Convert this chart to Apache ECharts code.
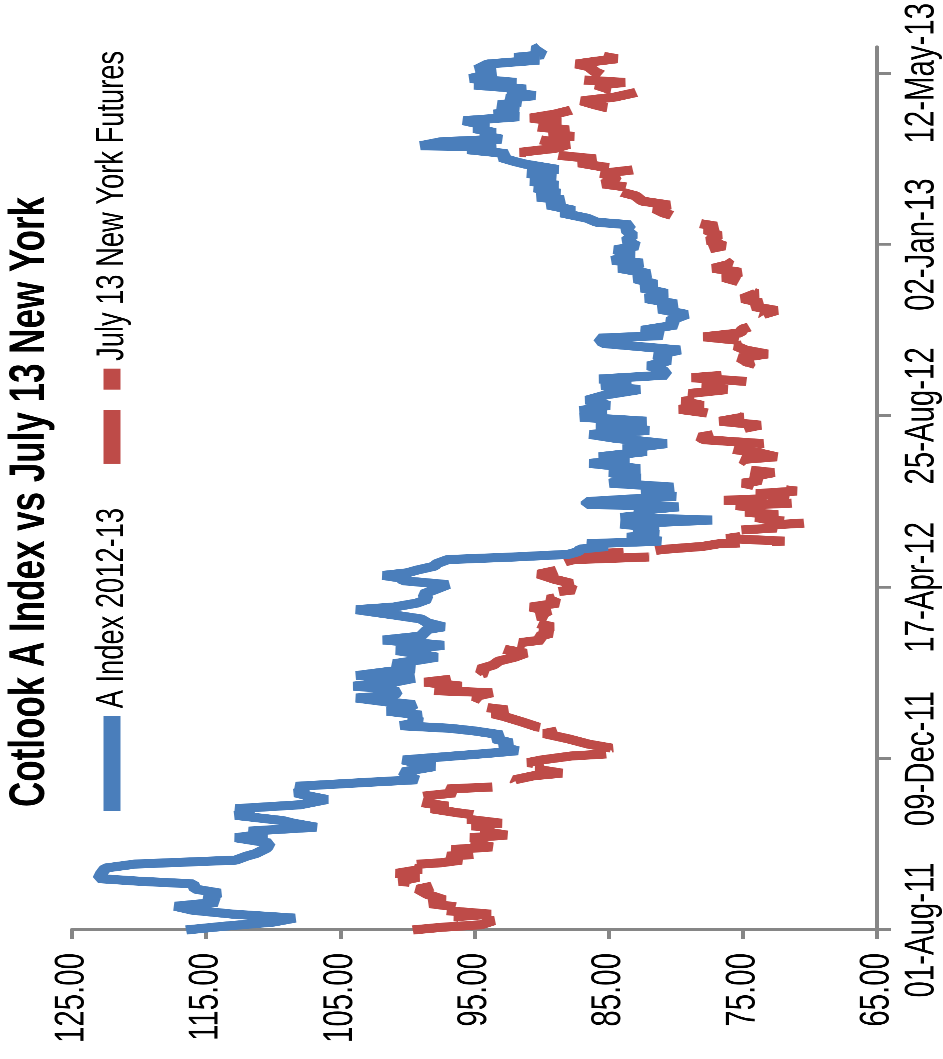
<!DOCTYPE html>
<html><head><meta charset="utf-8">
<script src="https://cdn.jsdelivr.net/npm/echarts@6/dist/echarts.min.js"></script>
<style>
html,body{margin:0;padding:0;background:#fff;overflow:hidden;width:943px;height:1059px;}
#chart{position:absolute;left:0;top:0;width:1512.857px;height:943px;transform-origin:0 0;transform:translate(0,1059px) rotate(-90deg) scaleX(0.7);}
</style></head><body><div id="chart"></div>
<script>
// Days counted from 01-Aug-2011
const blueDays = [0,3,6,9,12,15,18,21,25,28,31,35,37,39,43,47,50,53,56,58,62,66,70,73,75,78,81,83,87,90,92,95,99,102,104,107,109,112,114,117,120,124,127,129,131,134,136,139,142,145,148,151,153,155,158,161,163,166,168,171,173,176,178,181,183,185,188,191,193,196,198,200,202,205,207,210,212,214,216,218,220,223,225,228,230,233,236,239,243,245,248,251,255,258,262,265,267,269,271,273,276,278,281,283,285,287,289,291,293,295,298,300,303,305,308,311,313,315,318,321,323,325,329,332,336,339,343,347,350,354,357,359,363,365,369,373,376,379,383,386,389,392,394,398,402,406,410,413,417,418,421,425,428,432,436,440,442,445,449,451,455,459,462,467,471,475,479,483,487,490,494,498,502,506,508,512,516,519,523,527,531,535,537,540,544,546,550,554,556,559,563,565,568,570,574,577,581,583,586,589,592,594,595,598,600,603,605,608,610,614,617,619,622,626,628,631,633,636,638,641,643,646,648,651,653,657,660,662,664,668,670];
const blueVals = [116.5,113.5,110,108.4,113,116,117.3,114.2,115,114,115.8,116,120,123,122.8,122.5,120.3,112.8,112,111.3,110.5,110.3,112.8,110.5,111.8,106.8,108.5,109.3,112.8,111.5,112.8,108,106,107.5,108.3,107.5,108.3,103,99.3,100,100.3,98,99.5,100.3,97.8,94,91.8,93,92.3,93.5,93,95,96.8,100.5,99,99.8,99,101.5,100,99.5,101.5,103.8,101,100.8,101.5,104,101,99.5,103.8,101.5,99.5,100.5,101,99,97.8,99.5,100.8,99,97.3,99.5,101.8,99,98.8,98.5,97.3,98.5,99,101,103.8,101,99.3,98.5,98.8,98,97,100.3,100.5,101.8,100,99.3,98,97.8,97,92,88,87.3,87.1,85.1,86.6,81.1,83.6,81.3,83.1,81.3,84.1,77.3,84.1,82.1,83,79.8,86.6,86.6,80.0,82.5,80.2,84.9,82.7,84.9,82.7,86.4,83.5,85.7,82.2,83.9,80.7,84.5,86.4,82.0,85.9,82.2,87.1,85.2,87.1,85.0,86.6,85.2,82.7,85.5,83.4,85.7,80.7,81.0,82.0,80.5,81.5,79.7,82.0,85.4,85.7,81.0,82.5,80.0,80.5,79.2,81.2,80.0,82.2,80.7,82.5,81.5,83.0,82.0,84.2,82.5,84.7,83.2,84.5,82.9,83.7,83.2,83.7,83.4,85.9,86.6,88.5,87.6,89.5,88.4,90.3,88.7,90.5,88.8,90.8,89.0,91.0,88.8,91.2,92.0,93.0,92.6,95.5,93.4,99.0,97.5,93.0,94.5,93.5,95.0,94.0,95.8,91.7,93.5,91.8,93.2,91.6,92.6,90.5,92.5,91.2,95.0,91.9,95.3,94.5,93.5,94.8,94.0,90.2,92.0,89.9,90.5,90.1];
const redDays = [0,2,4,7,10,12,15,17,20,23,27,31,34,37,40,43,46,49,51,53,56,58,61,63,66,68,70,72,75,77,79,81,84,86,89,92,94,97,99,101,104,107,109,111,114,117,119,122,124,127,129,132,134,136,138,141,145,149,152,154,158,162,164,167,170,174,177,180,182,185,188,190,192,195,198,201,204,207,210,213,215,218,220,223,225,228,230,233,235,238,242,245,248,251,253,256,258,261,263,266,270,273,276,279,281,283,285,287,289,291,293,295,297,299,301,303,305,307,309,311,313,315,317,319,322,324,326,328,331,333,336,339,341,344,347,350,354,357,359,362,365,369,372,374,377,380,383,386,389,392,395,398,401,404,407,410,413,416,419,422,425,430,434,437,440,443,446,450,453,456,459,463,467,470,473,476,479,483,488,491,495,499,502,505,509,513,516,519,523,527,531,534,538,541,544,547,550,553,557,561,563,566,569,571,574,577,579,582,585,588,590,593,596,600,602,604,607,610,613,616,619,622,624,626,629,632,636,638,641,643,645,648,651,655,657,659,661,663];
const redVals = [99.6,97.5,94.5,93.6,96.5,93.8,97.5,96.0,98.3,97.3,98.5,99.2,97.8,100.6,99.2,100.8,99.0,100.6,97.5,96.0,97.0,94.0,96.7,93.7,95.2,93.5,95.3,92.6,94.5,92.6,95.2,93.0,95.5,94.0,96.3,98.2,97.0,99.2,98.5,99.3,96.5,97.0,92.5,91.7,92.0,90.6,88.5,90.4,89.0,91.0,90.0,87.8,84.5,85.5,84.8,86.5,88.0,89.8,88.3,90.3,91.5,92.8,93.6,92.6,95.2,94.3,95.0,93.7,99.0,96.0,98.7,97.0,95.5,94.2,94.6,93.6,93.2,92.0,91.2,92.8,90.8,91.6,90.0,90.2,89.3,90.0,89.2,90.5,89.0,90.2,89.5,90.8,88.8,89.5,88.5,89.5,87.6,88.2,87.8,89.0,90.2,88.8,89.6,88.4,87.6,82.0,87.3,82.5,80.6,78.0,76.8,71.9,76.2,74.8,75.3,75.9,72.5,73.3,70.0,73.0,74.0,72.4,74.8,72.8,75.5,71.1,76.4,71.2,74.0,71.0,73.6,75.0,73.7,74.3,72.7,75.5,74.5,75.0,72.5,73.8,76.0,73.5,77.9,78.2,76.5,75.2,73.7,76.7,75.0,77.5,79.7,78.0,79.5,77.5,79.0,76.2,78.0,74.5,78.8,75.0,74.8,74.5,75.2,73.2,74.8,75.5,74.0,77.9,75.2,75.0,74.0,73.0,73.5,72.5,74.2,73.7,75.0,74.0,75.5,75.0,76.4,75.2,77.2,76.0,76.5,77.5,77.9,76.4,77.5,76.8,77.7,77.0,79.5,79.9,80.9,81.5,80.5,82.5,83.0,84.5,83.2,85.4,84.5,84.6,85.5,82.9,85.5,87.2,86.0,89.0,91.6,89.0,88.0,90.4,87.6,89.4,88.0,91.1,88.6,90.8,89.0,87.8,85.2,86.0,87.0,84.5,82.7,85.0,85.9,83.8,87.1,85.3,86.0,86.5,87.4,86.0,84.4,85.5];
const dateTickDays = [0,130,260,390,520,650];
const valueTicks = [65,75,85,95,105,115,125];
const seriesNames = ['A Index 2012-13','July 13 New York Futures'];
const titleText = 'Cotlook A Index vs July 13 New York';

const START = Date.UTC(2011,7,1);
const MONTHS = ['Jan','Feb','Mar','Apr','May','Jun','Jul','Aug','Sep','Oct','Nov','Dec'];
function fmtDay(d){
  const dt = new Date(START + d*86400000);
  const dd = String(dt.getUTCDate()).padStart(2,'0');
  return dd + '-' + MONTHS[dt.getUTCMonth()] + '-' + String(dt.getUTCFullYear()).slice(2);
}
const FONT = '"Liberation Sans", Arial, sans-serif';
const AXC = '#868686';
const chart = echarts.init(document.getElementById('chart'), null, {renderer:'canvas', devicePixelRatio:2});
chart.setOption({
  animation:false,
  backgroundColor:'#fff',
  title:{text:titleText, left:360, top:5, padding:0,
    textStyle:{fontSize:50, fontWeight:'bold', color:'#000', fontFamily:FONT}},
  legend:{left:354, top:91, padding:0, itemWidth:136, itemHeight:17, itemGap:63, selectedMode:false,
    textStyle:{fontSize:39, color:'#000', fontFamily:FONT, lineHeight:42, padding:[0,0,0,6]},
    data:[{name:seriesNames[0], icon:'rect'},
          {name:seriesNames[1], icon:'path://M0,0H77V17H0Z M106,0H136V17H106Z'}]},
  grid:{left:184.3, right:67.1, top:72, bottom:66, containLabel:false},
  xAxis:{type:'value', min:0, max:670, interval:130,
    axisLine:{show:true, lineStyle:{color:AXC, width:4}},
    axisTick:{show:true, length:14, customValues:dateTickDays, lineStyle:{color:AXC, width:4}},
    axisLabel:{customValues:dateTickDays, formatter:fmtDay, margin:24, fontSize:42, color:'#000', fontFamily:FONT},
    splitLine:{show:false}},
  yAxis:{type:'value', min:valueTicks[0], max:valueTicks[valueTicks.length-1], interval:10,
    axisLine:{show:true, lineStyle:{color:AXC, width:4}},
    axisTick:{show:true, length:13, lineStyle:{color:AXC, width:4}},
    axisLabel:{formatter:v=>v.toFixed(2), margin:33, fontSize:42, color:'#000', fontFamily:FONT},
    splitLine:{show:false}},
  series:[
    {name:seriesNames[1], type:'line', showSymbol:false, color:'#BE4B48',
      lineStyle:{color:'#BE4B48', width:13, type:[85,32]},
      data:redDays.map((d,i)=>[d, redVals[i]])},
    {name:seriesNames[0], type:'line', showSymbol:false, color:'#4A7EBB',
      lineStyle:{color:'#4A7EBB', width:13},
      data:blueDays.map((d,i)=>[d, blueVals[i]])}
  ]
});
</script></body></html>
